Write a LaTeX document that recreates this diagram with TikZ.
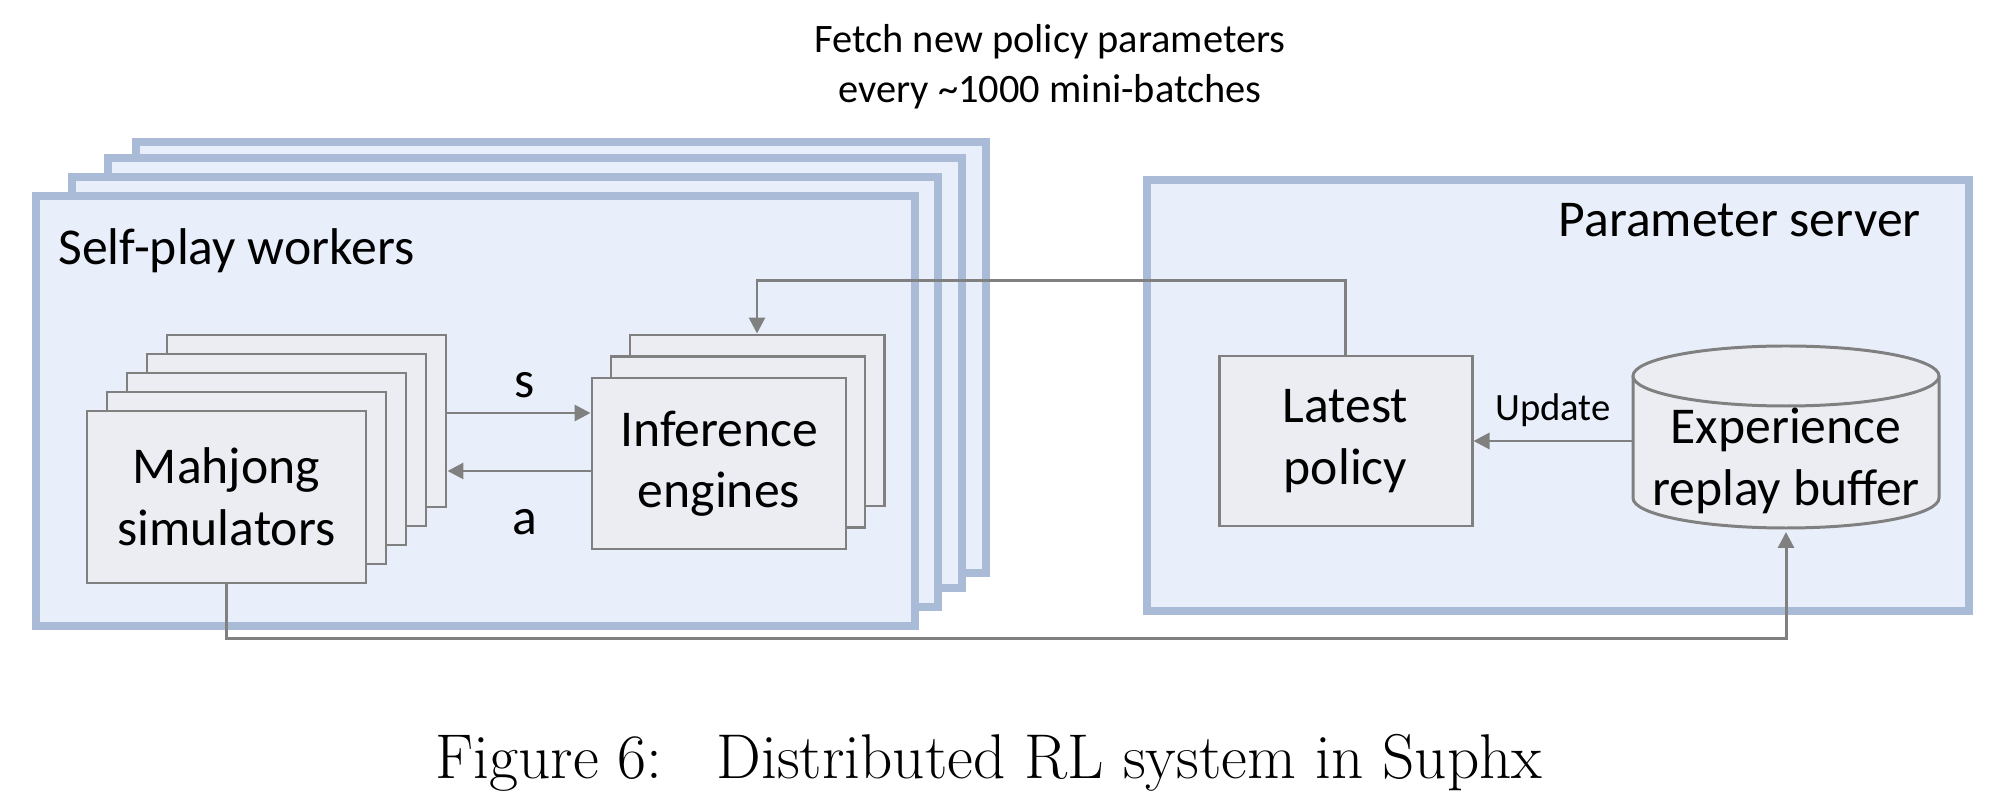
\documentclass[tikz,border=0pt]{standalone}
\usepackage{fontspec}
\usepackage{tikz}
\usetikzlibrary{arrows.meta}
\newfontfamily\calibri{Carlito}
\definecolor{framefill}{HTML}{E9EFFA}
\definecolor{frameline}{HTML}{A9BBD7}
\definecolor{sheetfill}{HTML}{EBEDF2}
\definecolor{linegray}{HTML}{808080}

\begin{document}
\begin{tikzpicture}
            \tikzstyle{every node}=[font=\calibri\fontsize{14.7}{17.5}\selectfont, align=center]
            \tikzstyle{frame}=[draw=frameline, fill=framefill, line width=2.4pt]
            \tikzstyle{sheet}=[draw=linegray, fill=sheetfill, line width=0.85pt, inner sep=0pt]
            \tikzstyle{arr}=[draw=linegray, line width=0.85pt, -{Triangle[length=0.16cm,width=0.16cm]}]
            \useasboundingbox (0,0) rectangle (20.08,-8.06);
            % title above
            \node [font=\calibri\fontsize{11.5}{14.2}\selectfont] (fetch) at (10.5,-0.67) {Fetch new policy parameters\\every \textasciitilde1000 mini-batches};
            % self-play worker frames, back to front
            \foreach \l/\t/\r/\b in {1.36/1.42/9.86/5.73, 1.08/1.58/9.62/5.88, 0.72/1.77/9.38/6.07}
                \draw[frame] (\l,-\t) rectangle (\r,-\b);
            \node [frame, minimum width=8.79cm, minimum height=4.30cm] (workers) at (4.755,-4.11) {};
            \node [anchor=west] (workerlbl) at (0.46,-2.51) {Self-play workers};
            % parameter server frame
            \node [frame, minimum width=8.22cm, minimum height=4.31cm] (server) at (15.58,-3.955) {};
            \node [anchor=east] (serverlbl) at (19.33,-2.20) {Parameter server};
            % simulators and inference engines
            \foreach \i in {4,3,2,1}
                \node [sheet, minimum width=2.79cm, minimum height=1.72cm] (sim\i) at ({2.265+0.2*\i},{-4.97+0.19*\i}) {};
            \node [sheet, minimum width=2.79cm, minimum height=1.72cm] (sim0) at (2.265,-4.97) {Mahjong\\simulators};
            \foreach \i in {2,1}
                \node [sheet, minimum width=2.54cm, minimum height=1.71cm] (inf\i) at ({7.19+0.19*\i},{-4.635+0.215*\i}) {};
            \node [sheet, minimum width=2.54cm, minimum height=1.71cm] (inf0) at (7.19,-4.635) {Inference\\engines};
            \node [sheet, minimum width=2.53cm, minimum height=1.70cm] (policy) at (13.455,-4.41) {Latest\\policy};
            % replay buffer
            \fill[sheetfill] (16.33,-3.76) -- (16.33,-4.98) arc (180:360:1.53 and 0.30) -- (19.39,-3.76) -- cycle;
            \draw[linegray, line width=0.85pt] (16.33,-3.76) -- (16.33,-4.98) arc (180:360:1.53 and 0.30) -- (19.39,-3.76);
            \draw[linegray, fill=sheetfill, line width=0.85pt] (17.86,-3.76) ellipse (1.53 and 0.30);
            \node (buffer) at (17.86,-4.61) {Experience\\replay buffer};
            \coordinate (bufW) at (16.33,-4.41);
            \coordinate (bufS) at (17.86,-5.32);
            % connectors
            \draw[arr] ([yshift=0.08cm]sim4.east) -- ([yshift=0.08cm]sim4.east -| inf0.west);
            \draw[arr] ([yshift=-0.075cm]inf0.west) -- ([yshift=-0.075cm]inf0.west -| sim4.east);
            \node (s) at (5.25,-3.85) {s};
            \node (a) at (5.25,-5.22) {a};
            \draw[arr] (policy.north) -- ++(0,0.74) -| (inf2.north);
            \draw[arr] (bufW) -- (policy.east);
            \node [font=\calibri\fontsize{11}{13}\selectfont] (update) at (15.53,-4.10) {Update};
            \draw[arr] (sim0.south) -- ++(0,-0.54) -| (bufS);
            % caption
            \node [font=\fontsize{18}{21}\selectfont] (caption) at (9.89,-7.63) {Figure 6:\hspace{0.85em}Distributed RL system in Suphx};
        \end{tikzpicture}
\end{document}
